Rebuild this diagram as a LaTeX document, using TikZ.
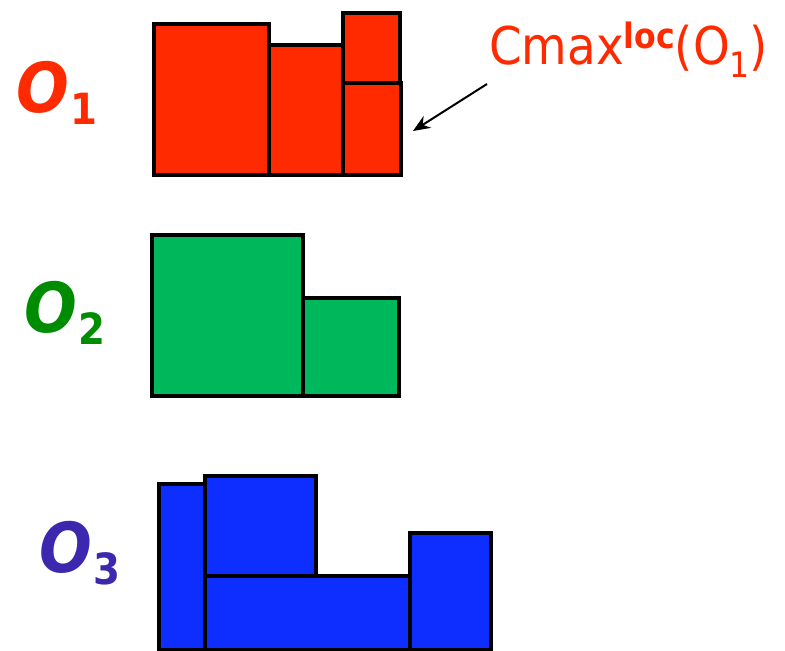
\documentclass[tikz,border=0pt]{standalone}
\usepackage{fontspec}
\setmainfont{DejaVu Sans Condensed}
\newfontfamily\oblfont{DejaVu Sans Condensed}
\usetikzlibrary{arrows.meta}
\definecolor{opred}{RGB}{255,42,0}
\definecolor{opgreen}{RGB}{0,184,92}
\definecolor{opblue}{RGB}{13,46,255}
\definecolor{lblgreen}{RGB}{0,140,0}
\definecolor{lblblue}{RGB}{60,40,175}
\newcommand{\opname}[2]{{\oblfont\bfseries\itshape\fontsize{69}{69}\selectfont O\kern2pt\raisebox{-12pt}{\upshape\fontsize{43}{43}\selectfont #2}}}

\begin{document}
\begin{tikzpicture}[x=1pt,y=-1pt,
  job/.style={draw=black,line width=4.2pt,line join=miter},
  oplabel/.style={anchor=base west,inner sep=0pt}]
\useasboundingbox (0,0) rectangle (785,651);
% machine O1 (red)
\draw[job,fill=opred] (154,24) rectangle (269,175);
\draw[job,fill=opred] (269,45) rectangle (343,175);
\draw[job,fill=opred] (343,13) rectangle (400,83);
\draw[job,fill=opred] (343,83) rectangle (401,175);
\node[oplabel,text=opred] (lblone) at (16,112) {\opname{O}{1}};
% machine O2 (green)
\draw[job,fill=opgreen] (152,235) rectangle (303,396);
\draw[job,fill=opgreen] (303,298) rectangle (399,396);
\node[oplabel,text=lblgreen] (lbltwo) at (24,332) {\opname{O}{2}};
% machine O3 (blue)
\draw[job,fill=opblue] (159,484) rectangle (205,650);
\draw[job,fill=opblue] (205,476) rectangle (316,576);
\draw[job,fill=opblue] (205,576) rectangle (410,650);
\draw[job,fill=opblue] (410,533) rectangle (491,650);
\node[oplabel,text=lblblue] (lblthree) at (39,572) {\opname{O}{3}};
% local makespan of O1
\node[anchor=base west,inner sep=0pt,text=opred] (cmax) at (489,64)
  {\fontsize{52}{52}\selectfont Cmax\raisebox{16pt}{\fontsize{35}{35}\selectfont\bfseries loc}(O\raisebox{-13pt}{\fontsize{35}{35}\selectfont 1})};
\coordinate (arrtail) at (487,84);
\coordinate (arrtip) at (413,131);
\draw[line width=2pt,-{Stealth[length=17pt,width=14pt]}] (arrtail) -- (arrtip);
\end{tikzpicture}
\end{document}
